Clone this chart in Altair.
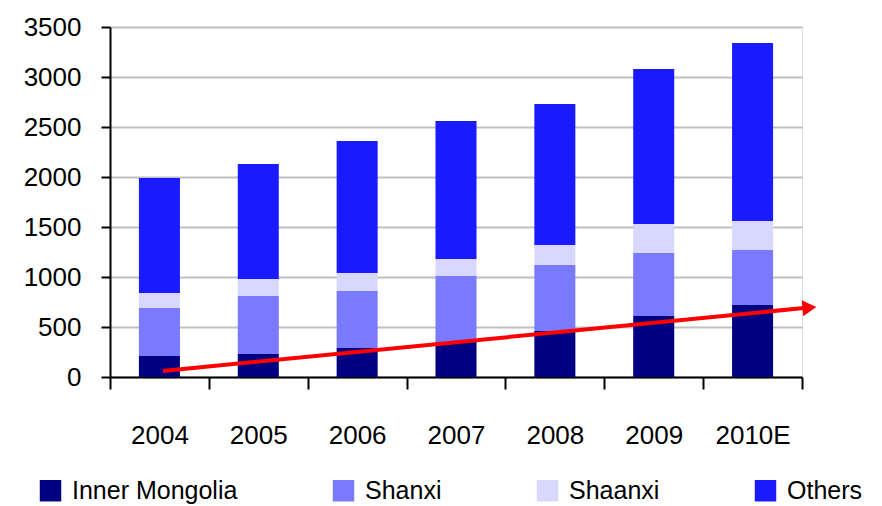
import altair as alt
import pandas as pd

years = ["2004", "2005", "2006", "2007", "2008", "2009", "2010E"]
series_names = ["Inner Mongolia", "Shanxi", "Shaanxi", "Others"]
series_colors = ["#000080", "#7A7AFF", "#D8D8FF", "#1A1AFF"]
inner_mongolia = [210, 230, 290, 350, 460, 610, 720]
shanxi = [480, 580, 570, 660, 660, 630, 550]
shaanxi = [150, 170, 180, 170, 200, 290, 290]
others = [1150, 1150, 1320, 1380, 1410, 1550, 1780]
y_ticks = [0, 500, 1000, 1500, 2000, 2500, 3000, 3500]

# trend arrow (x in category-index units, y in data units)
arrow_x = [0.035, 6.52]
arrow_y = [60, 690]
arrow_head_x = [6.575]
arrow_head_y = [694]

rows = []
for i, name in enumerate(series_names):
    vals = [inner_mongolia, shanxi, shaanxi, others][i]
    for y, v in zip(years, vals):
        rows.append({"year": y, "series": name, "value": v, "order": i})
df = pd.DataFrame(rows)

arrow_df = pd.DataFrame({"x": arrow_x, "y": arrow_y})
head_df = pd.DataFrame({"x": arrow_head_x, "y": arrow_head_y})

FONT = "Liberation Sans"
yscale = alt.Scale(domain=[0, 3500], nice=False, zero=True)

bars = alt.Chart(df).mark_bar(width=alt.RelativeBandSize(0.415)).encode(
    x=alt.X("year:N", sort=years, title=None,
            scale=alt.Scale(paddingInner=0, paddingOuter=0),
            axis=alt.Axis(labelAngle=0, tickBand="extent", domainColor="black",
                          domainWidth=2, tickColor="black", tickWidth=2,
                          tickSize=12, labelPadding=33, labelFontSize=26,
                          labelColor="black", labelFont=FONT, grid=False)),
    y=alt.Y("value:Q", stack="zero", scale=yscale, title=None,
            axis=alt.Axis(values=y_ticks, format="d", domainColor="black",
                          domainWidth=2, tickColor="black", tickWidth=2,
                          tickSize=9, labelPadding=20, labelFontSize=26,
                          labelColor="black", labelFont=FONT, grid=True,
                          gridColor="#C0C0C0", gridWidth=2)),
    color=alt.Color("series:N", sort=series_names,
                    scale=alt.Scale(domain=series_names, range=series_colors),
                    legend=alt.Legend(title=None, orient="none", legendX=-72,
                                      legendY=451, direction="horizontal",
                                      columns=4, columnPadding=93,
                                      symbolType="square", symbolSize=460,
                                      symbolStrokeWidth=0, labelOffset=9,
                                      labelFontSize=25, labelColor="black",
                                      labelFont=FONT, labelLimit=400,
                                      padding=0)),
    order=alt.Order("order:Q", sort="ascending"),
)

xq = alt.Scale(domain=[-0.5, 6.5], nice=False, zero=False)

arrow_line = alt.Chart(arrow_df).mark_line(color="#FF0000", strokeWidth=4).encode(
    x=alt.X("x:Q", scale=xq, axis=None),
    y=alt.Y("y:Q", scale=yscale, title=None),
)
arrow_head = alt.Chart(head_df).mark_point(
    shape="triangle-right", filled=True, color="#FF0000", size=260,
    angle=354.4, opacity=1).encode(
    x=alt.X("x:Q", scale=xq, axis=None),
    y=alt.Y("y:Q", scale=yscale, title=None),
)

chart = alt.layer(bars, arrow_line, arrow_head).resolve_scale(
    x="independent"
).properties(
    width=692, height=350,
    autosize=alt.AutoSizeParams(type="none"),
    padding={"left": 102, "top": 19, "right": 72, "bottom": 127},
).configure_view(stroke=None).configure(background="white")

chart.save("out.html", embed_options={"renderer": "svg", "actions": False})
